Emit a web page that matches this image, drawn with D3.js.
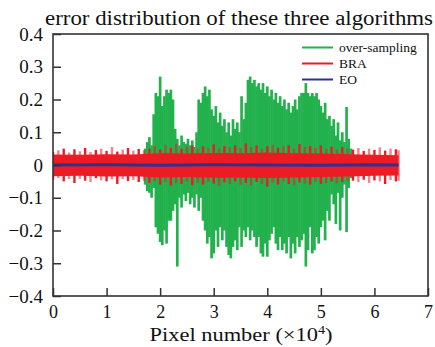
<!DOCTYPE html>
<html>
<head>
<meta charset="utf-8">
<script src="https://cdn.jsdelivr.net/npm/d3@7"></script>
<style>
  body { margin: 0; background: #fff; }
  svg { display: block; font-family: "Liberation Serif", "DejaVu Serif", serif; }
</style>
</head>
<body>
<div id="chart"></div>
<script>
// x in units of 10^4 pixels
const xTicks = [0, 1, 2, 3, 4, 5, 6, 7];
const yTicks = [-0.4, -0.3, -0.2, -0.1, 0, 0.1, 0.2, 0.3, 0.4];

// over-sampling: envelope of the error signal
const greenX = [1.72,1.76,1.80,1.84,1.88,1.92,1.96,2.00,2.04,2.08,2.12,2.16,2.20,2.24,2.28,2.32,2.36,2.40,2.44,2.48,
  2.52,2.56,2.60,2.64,2.68,2.72,2.76,2.80,2.84,2.88,2.92,2.96,3.00,3.04,3.08,3.12,3.16,3.20,3.24,3.28,
  3.32,3.36,3.40,3.44,3.48,3.52,3.56,3.60,3.64,3.68,3.72,3.76,3.80,3.84,3.88,3.92,3.96,4.00,4.04,4.08,
  4.12,4.16,4.20,4.24,4.28,4.32,4.36,4.40,4.44,4.48,4.52,4.56,4.60,4.64,4.68,4.72,4.76,4.80,4.84,4.88,
  4.92,4.96,5.00,5.04,5.08,5.12,5.16,5.20,5.24,5.28,5.32,5.36,5.40,5.44,5.48,5.52,5.56];
const greenHi = [0.05,0.07,0.085,0.06,0.155,0.22,0.21,0.27,0.18,0.21,0.23,0.22,0.23,0.2,0.11,0.08,0.06,0.09,0.07,0.065,
  0.08,0.06,0.075,0.055,0.1,0.2,0.19,0.22,0.24,0.21,0.23,0.17,0.15,0.18,0.13,0.16,0.12,0.14,0.1,0.13,
  0.09,0.14,0.11,0.13,0.1,0.21,0.14,0.19,0.26,0.27,0.25,0.26,0.24,0.25,0.23,0.25,0.22,0.24,0.21,0.23,
  0.2,0.22,0.19,0.21,0.18,0.2,0.17,0.19,0.16,0.18,0.2,0.17,0.21,0.22,0.22,0.25,0.22,0.21,0.22,0.21,
  0.22,0.2,0.18,0.16,0.19,0.14,0.15,0.12,0.14,0.09,0.13,0.075,0.1,0.07,0.177,0.08,0.05];
const greenLo = [-0.06,-0.08,-0.085,-0.1,-0.07,-0.19,-0.21,-0.235,-0.245,-0.2,-0.24,-0.17,-0.17,-0.14,-0.12,-0.31,-0.1,-0.13,-0.09,-0.11,
  -0.085,-0.12,-0.1,-0.13,-0.09,-0.14,-0.1,-0.17,-0.2,-0.24,-0.22,-0.285,-0.27,-0.2,-0.25,-0.19,-0.23,-0.2,-0.25,-0.275,
  -0.285,-0.25,-0.23,-0.26,-0.19,-0.25,-0.2,-0.22,-0.19,-0.23,-0.2,-0.22,-0.25,-0.22,-0.27,-0.28,-0.24,-0.28,-0.23,-0.21,
  -0.19,-0.24,-0.26,-0.22,-0.26,-0.24,-0.27,-0.22,-0.285,-0.24,-0.27,-0.22,-0.25,-0.23,-0.21,-0.31,-0.26,-0.19,-0.27,-0.26,
  -0.22,-0.24,-0.19,-0.17,-0.23,-0.14,-0.17,-0.09,-0.12,-0.18,-0.085,-0.2,-0.1,-0.06,-0.205,-0.07,-0.04];

// BRA: spikes at the edge of the band
const redX = [0,0.1,0.2,0.3,0.4,0.5,0.6,0.7,0.8,0.9,1.0,1.1,1.2,1.3,1.4,1.5,1.6,1.7,
  1.8,1.9,2.0,2.1,2.2,2.3,2.4,2.5,2.6,2.7,2.8,2.9,3.0,3.1,3.2,3.3,3.4,3.5,3.6,3.7,3.8,3.9,
  4.0,4.1,4.2,4.3,4.4,4.5,4.6,4.7,4.8,4.9,5.0,5.1,5.2,5.3,5.4,5.5,
  5.6,5.7,5.8,5.9,6.0,6.1,6.2,6.3,6.4,6.45];
const redHi = [0.04,0.045,0.05,0.038,0.048,0.042,0.052,0.04,0.046,0.05,0.043,0.055,0.041,0.047,0.052,0.044,0.049,0.045,
  0.05,0.058,0.048,0.062,0.052,0.065,0.05,0.056,0.06,0.048,0.057,0.052,0.063,0.05,0.058,0.054,0.06,0.052,0.066,0.055,0.06,0.05,
  0.058,0.062,0.053,0.057,0.06,0.05,0.064,0.055,0.058,0.052,0.06,0.05,0.056,0.048,0.055,0.05,
  0.047,0.052,0.043,0.05,0.046,0.054,0.044,0.05,0.048,0.045];
const redLo = [-0.045,-0.04,-0.05,-0.043,-0.055,-0.042,-0.048,-0.052,-0.04,-0.047,-0.05,-0.044,-0.058,-0.043,-0.049,-0.046,-0.052,-0.048,
  -0.055,-0.05,-0.06,-0.052,-0.063,-0.055,-0.058,-0.05,-0.062,-0.054,-0.06,-0.052,-0.057,-0.064,-0.053,-0.058,-0.05,-0.06,-0.055,-0.062,-0.052,-0.058,
  -0.066,-0.054,-0.06,-0.05,-0.058,-0.062,-0.053,-0.057,-0.06,-0.052,-0.058,-0.055,-0.05,-0.056,-0.052,-0.05,
  -0.048,-0.052,-0.045,-0.055,-0.047,-0.05,-0.058,-0.046,-0.05,-0.048];
// BRA: solid core of the band
const redCoreX = [0, 0.5, 1, 1.5, 2, 2.5, 3, 3.5, 4, 4.5, 5, 5.5, 6, 6.45];
const redCoreHi = [0.032, 0.031, 0.033, 0.032, 0.036, 0.035, 0.037, 0.036, 0.038, 0.036, 0.035, 0.033, 0.031, 0.03];
const redCoreLo = [-0.034, -0.033, -0.035, -0.034, -0.038, -0.037, -0.039, -0.038, -0.04, -0.038, -0.037, -0.035, -0.033, -0.032];

// EO: almost flat at zero
const blueX = [0, 1, 2, 3, 4, 5, 6, 6.45];
const blueY = [0, 0.001, -0.001, 0.001, 0, -0.001, 0.001, 0];

const seriesNames = ["over-sampling", "BRA", "EO"];
const seriesColors = ["#22b14c", "#ed1c24", "#2e3192"];

const width = 435, height = 347;
const margin = { top: 34, right: 7, bottom: 51, left: 53 };

const svg = d3.select("#chart").append("svg")
  .attr("width", width)
  .attr("height", height);

const x = d3.scaleLinear().domain([0, 7]).range([margin.left, width - margin.right]);
const y = d3.scaleLinear().domain([-0.4, 0.4]).range([height - margin.bottom, margin.top]);

svg.append("clipPath").attr("id", "plot")
  .append("rect")
  .attr("x", margin.left).attr("y", margin.top)
  .attr("width", width - margin.left - margin.right)
  .attr("height", height - margin.top - margin.bottom);

const plot = svg.append("g").attr("clip-path", "url(#plot)");

// over-sampling as dense vertical strokes
plot.append("g")
  .selectAll("line")
  .data(greenX)
  .join("line")
    .attr("x1", d => x(d)).attr("x2", d => x(d))
    .attr("y1", (d, i) => y(greenHi[i]))
    .attr("y2", (d, i) => y(greenLo[i]))
    .attr("stroke", seriesColors[0])
    .attr("stroke-width", 2.7);

// BRA spikes + core
plot.append("g")
  .selectAll("line")
  .data(redX)
  .join("line")
    .attr("x1", d => x(d)).attr("x2", d => x(d))
    .attr("y1", (d, i) => y(redHi[i]))
    .attr("y2", (d, i) => y(redLo[i]))
    .attr("stroke", seriesColors[1])
    .attr("stroke-opacity", (d, i) => i % 2 ? 0.55 : 1)
    .attr("stroke-width", 2.4);

const redArea = d3.area()
  .x(d => x(d))
  .y0((d, i) => y(redCoreLo[i]))
  .y1((d, i) => y(redCoreHi[i]));

plot.append("path")
  .datum(redCoreX)
  .attr("d", redArea)
  .attr("fill", seriesColors[1]);

// EO line
const blueLine = d3.line()
  .x(d => x(d))
  .y((d, i) => y(blueY[i]));

plot.append("path")
  .datum(blueX)
  .attr("d", blueLine)
  .attr("fill", "none")
  .attr("stroke", seriesColors[2])
  .attr("stroke-width", 3);

// axes
const fmt = d => d === 0 ? "0" : d3.format(".1f")(d);

svg.append("g")
  .attr("transform", "translate(0," + (height - margin.bottom) + ")")
  .call(d3.axisBottom(x).tickValues(xTicks).tickSize(-8).tickPadding(9).tickFormat(d3.format("d")))
  .call(g => g.select(".domain").remove())
  .call(g => g.selectAll(".tick line").attr("stroke", "#333").attr("stroke-width", 1.5))
  .call(g => g.selectAll("text").attr("font-size", 18).attr("fill", "#111")
    .attr("font-family", "Liberation Serif, serif"));

svg.append("g")
  .attr("transform", "translate(" + margin.left + ",0)")
  .call(d3.axisLeft(y).tickValues(yTicks).tickSize(-8).tickPadding(10).tickFormat(fmt))
  .call(g => g.select(".domain").remove())
  .call(g => g.selectAll(".tick line").attr("stroke", "#333").attr("stroke-width", 1.5))
  .call(g => g.selectAll("text").attr("font-size", 19).attr("fill", "#111")
    .attr("font-family", "Liberation Serif, serif"));

// frame
svg.append("rect")
  .attr("x", margin.left).attr("y", margin.top)
  .attr("width", width - margin.left - margin.right)
  .attr("height", height - margin.top - margin.bottom)
  .attr("fill", "none")
  .attr("stroke", "#333")
  .attr("stroke-width", 1.6);

// title
svg.append("text")
  .attr("x", 239).attr("y", 25)
  .attr("text-anchor", "middle")
  .attr("font-size", 20)
  .attr("fill", "#111")
  .attr("textLength", 388)
  .attr("lengthAdjust", "spacingAndGlyphs")
  .text("error distribution of these three algorithms");

// x label
const xl = svg.append("text")
  .attr("x", 241).attr("y", 341)
  .attr("text-anchor", "middle")
  .attr("font-size", 19)
  .attr("fill", "#111")
  .attr("textLength", 183)
  .attr("lengthAdjust", "spacingAndGlyphs");
xl.append("tspan").text("Pixel number (×10");
xl.append("tspan").attr("font-size", 12).attr("dy", -7).text("4");
xl.append("tspan").attr("dy", 7).text(")");

// legend
const legendY = [47.5, 63.5, 79.5];
const legend = svg.append("g");
seriesNames.forEach((name, i) => {
  legend.append("line")
    .attr("x1", 302).attr("x2", 333)
    .attr("y1", legendY[i]).attr("y2", legendY[i])
    .attr("stroke", seriesColors[i])
    .attr("stroke-width", 2);
  legend.append("text")
    .attr("x", 339).attr("y", legendY[i] + 4.5)
    .attr("font-size", 13.5)
    .attr("fill", "#111")
    .text(name);
});
</script>
</body>
</html>
